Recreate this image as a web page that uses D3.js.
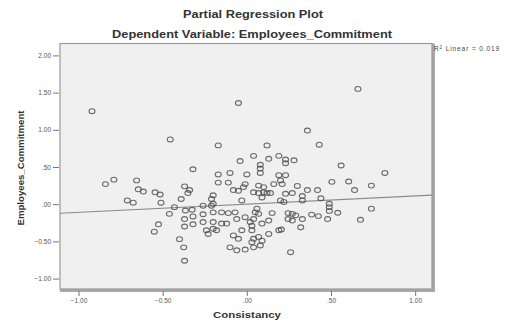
<!DOCTYPE html>
<html>
<head>
<meta charset="utf-8">
<script src="https://cdn.jsdelivr.net/npm/d3@7"></script>
<style>
  body { margin: 0; background: #fff; }
  svg { display: block; font-family: "Liberation Sans", Arial, sans-serif; }
</style>
</head>
<body>
<svg id="chart" width="505" height="322"></svg>
<script>
// partial residuals (Consistancy vs Employees_Commitment)
const consistancy = [
  -0.92, -0.455, -0.05, -0.17, 0.12, 0.66, 0.36, 0.43, -0.32, 0.04,
  0.13, 0.19, -0.04, 0.08, 0.08, 0.08, 0.23, 0.23, 0.28, 0.56,
  0.82, -0.10, -0.17, 0.00, 0.19, 0.23, -0.79, -0.84, -0.655, -0.17,
  -0.11, -0.01, -0.02, 0.07, 0.10, 0.20, 0.21, 0.30, -0.37, -0.645,
  -0.615, -0.545, -0.515, -0.34, -0.35, -0.05, 0.04, 0.07, 0.10, 0.14,
  0.23, 0.27, 0.36, 0.42, 0.505, 0.605, 0.64, 0.74, 0.33, 0.33,
  0.44, -0.20, -0.21, -0.71, -0.675, -0.51, -0.39, -0.03, 0.09, 0.20,
  0.22, 0.49, 0.49, 0.49, 0.54, 0.74, 0.675, -0.43, -0.46, -0.365,
  -0.325, -0.37, -0.32, -0.26, -0.20, -0.26, -0.20, -0.15, -0.11, -0.07,
  0.06, 0.05, 0.15, 0.245, 0.27, 0.29, 0.385, 0.425, 0.48, 0.33,
  0.32, 0.245, 0.27, -0.01, 0.04, 0.02, 0.13, -0.06, -0.26, -0.20,
  -0.15, -0.12, -0.37, -0.32, -0.525, -0.55, -0.40, -0.375, -0.37, 0.09,
  0.03, 0.03, -0.03, 0.205, 0.13, -0.24, -0.20, -0.23, -0.18, -0.08,
  -0.05, 0.07, 0.09, 0.08, 0.03, 0.04, -0.10, -0.06, -0.01, 0.04,
  0.26, 0.19, 0.16, -0.21, 0.12, -0.08, 0.07
];
const commitment = [
  1.25, 0.87, 1.36, 0.79, 0.79, 1.55, 0.99, 0.80, 0.47, 0.65,
  0.61, 0.65, 0.58, 0.53, 0.48, 0.42, 0.60, 0.55, 0.59, 0.52,
  0.42, 0.42, 0.40, 0.40, 0.39, 0.39, 0.33, 0.27, 0.32, 0.29,
  0.29, 0.27, 0.23, 0.25, 0.23, 0.32, 0.27, 0.245, 0.24, 0.20,
  0.17, 0.16, 0.13, 0.19, 0.15, 0.18, 0.16, 0.15, 0.16, 0.15,
  0.14, 0.15, 0.19, 0.19, 0.30, 0.305, 0.19, 0.25, 0.11, 0.05,
  0.08, 0.12, 0.07, 0.05, 0.02, 0.02, 0.07, 0.05, 0.09, 0.05,
  0.03, 0.005, -0.04, -0.09, -0.115, -0.06, -0.21, -0.04, -0.13, -0.085,
  -0.075, -0.20, -0.165, -0.02, 0.005, -0.135, -0.11, -0.11, -0.12, -0.11,
  -0.06, -0.11, -0.12, -0.12, -0.13, -0.15, -0.14, -0.16, -0.20, -0.20,
  -0.31, -0.20, -0.22, -0.175, -0.20, -0.24, -0.22, -0.20, -0.24, -0.24,
  -0.26, -0.26, -0.30, -0.27, -0.27, -0.37, -0.47, -0.58, -0.76, -0.26,
  -0.29, -0.35, -0.35, -0.34, -0.40, -0.35, -0.33, -0.40, -0.35, -0.42,
  -0.465, -0.44, -0.49, -0.555, -0.51, -0.465, -0.58, -0.62, -0.61, -0.58,
  -0.645, -0.35, 0.27, -0.02, 0.15, 0.19, -0.13
];

const xTicks = [-1, -0.5, 0, 0.5, 1];
const yTicks = [-1, -0.5, 0, 0.5, 1, 1.5, 2];

// linear fit shown in the plot (R2 Linear = 0.019)
const fitSlope = 0.11;
const fitIntercept = 0.0;
const rSquared = "0.019";

const svg = d3.select("#chart");

// plot box in px
const box = { left: 60, right: 432, top: 43.5, bottom: 289 };

const x = d3.scaleLinear().domain([-1.11, 1.10]).range([box.left, box.right]);
const y = d3.scaleLinear().domain([-1.14, 2.16]).range([box.bottom, box.top]);

// SPSS style numbers: .50, -.50, 1.00
const spss = v => d3.format(".2f")(v).replace(/^(-?)0\./, "$1.");

// background of plot area
svg.append("rect")
   .attr("x", box.left)
   .attr("y", box.top)
   .attr("width", box.right - box.left)
   .attr("height", box.bottom - box.top)
   .attr("fill", "#f0f0f0");

// heavy right / bottom edge
svg.append("path")
   .attr("d", `M${box.right + 1.5},${box.top} V${box.bottom + 1.5} H${box.left}`)
   .attr("fill", "none")
   .attr("stroke", "#a8a8a8")
   .attr("stroke-width", 3);

svg.append("rect")
   .attr("x", box.left)
   .attr("y", box.top)
   .attr("width", box.right - box.left)
   .attr("height", box.bottom - box.top)
   .attr("fill", "none")
   .attr("stroke", "#9a9a9a")
   .attr("stroke-width", 1.2);

// axes
const yAxis = d3.axisLeft(y).tickValues(yTicks).tickFormat(spss).tickSize(6).tickPadding(2);
const xAxis = d3.axisBottom(x).tickValues(xTicks).tickFormat(spss).tickSize(5).tickPadding(2);

const gy = svg.append("g")
   .attr("transform", `translate(${box.left - 1},0)`)
   .call(yAxis);

const gx = svg.append("g")
   .attr("transform", `translate(0,${box.bottom + 2})`)
   .call(xAxis);

[gx, gy].forEach(g => {
  g.select(".domain").remove();
  g.selectAll("line").attr("stroke", "#777");
  g.selectAll("text")
   .attr("fill", "#555")
   .style("font-size", "6.5px");
});

// fit line across the whole box
const xd = x.domain();
svg.append("line")
   .attr("x1", x(xd[0]))
   .attr("y1", y(fitIntercept + fitSlope * xd[0]))
   .attr("x2", x(xd[1]))
   .attr("y2", y(fitIntercept + fitSlope * xd[1]))
   .attr("stroke", "#8a8a8a")
   .attr("stroke-width", 1.2);

// points
svg.append("g")
   .selectAll("ellipse")
   .data(d3.range(consistancy.length))
   .enter().append("ellipse")
   .attr("cx", i => x(consistancy[i]))
   .attr("cy", i => y(commitment[i]))
   .attr("rx", 3)
   .attr("ry", 2.4)
   .attr("fill", "none")
   .attr("stroke", "#4a4a4a")
   .attr("stroke-opacity", 0.8)
   .attr("stroke-width", 1.1);

// titles
svg.append("text")
   .attr("x", 253)
   .attr("y", 18)
   .attr("text-anchor", "middle")
   .attr("textLength", 140)
   .attr("lengthAdjust", "spacingAndGlyphs")
   .style("font-size", "10px")
   .style("font-weight", "bold")
   .attr("fill", "#333")
   .text("Partial Regression Plot");

svg.append("text")
   .attr("x", 252)
   .attr("y", 38)
   .attr("text-anchor", "middle")
   .attr("textLength", 280)
   .attr("lengthAdjust", "spacingAndGlyphs")
   .style("font-size", "10px")
   .style("font-weight", "bold")
   .attr("fill", "#333")
   .text("Dependent Variable: Employees_Commitment");

// axis titles
svg.append("text")
   .attr("x", 247)
   .attr("y", 318)
   .attr("text-anchor", "middle")
   .attr("textLength", 68)
   .attr("lengthAdjust", "spacingAndGlyphs")
   .style("font-size", "9px")
   .style("font-weight", "bold")
   .attr("fill", "#333")
   .text("Consistancy");

svg.append("text")
   .attr("transform", "translate(24,168) rotate(-90)")
   .attr("text-anchor", "middle")
   .attr("textLength", 115)
   .attr("lengthAdjust", "spacingAndGlyphs")
   .style("font-size", "8.5px")
   .style("font-weight", "bold")
   .attr("fill", "#333")
   .text("Employees_Commitment");

// R squared note at top right
const r2 = svg.append("text")
   .attr("x", 434)
   .attr("y", 51)
   .style("font-size", "6.5px")
   .style("letter-spacing", "0.9px")
   .attr("fill", "#444");
r2.append("tspan").text("R");
r2.append("tspan").attr("dy", -2.5).style("font-size", "4.5px").text("2");
r2.append("tspan").attr("dy", 2.5).text(" Linear = " + rSquared);
</script>
</body>
</html>
